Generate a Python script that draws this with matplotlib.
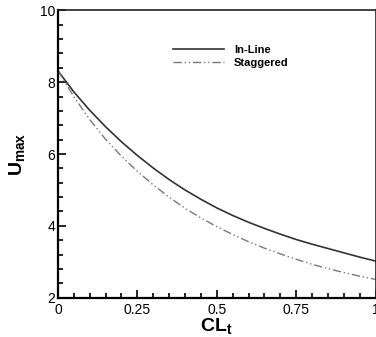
import matplotlib
matplotlib.use("Agg")
import matplotlib.pyplot as plt
from matplotlib.ticker import MultipleLocator, FixedLocator

plt.rcParams['font.family'] = ['Liberation Sans', 'DejaVu Sans']
plt.rcParams['mathtext.fontset'] = 'custom'
plt.rcParams['mathtext.rm'] = 'Liberation Sans'
plt.rcParams['mathtext.bf'] = 'Liberation Sans:bold'

# data
cl_t = [0.00, 0.05, 0.10, 0.15, 0.20, 0.25, 0.30, 0.35, 0.40, 0.45, 0.50,
        0.55, 0.60, 0.65, 0.70, 0.75, 0.80, 0.85, 0.90, 0.95, 1.00]
u_inline = [8.32, 7.73, 7.22, 6.76, 6.34, 5.96, 5.61, 5.29, 5.00, 4.74, 4.50,
            4.29, 4.10, 3.93, 3.77, 3.62, 3.49, 3.37, 3.25, 3.13, 3.02]
u_staggered = [8.32, 7.60, 6.96, 6.41, 5.94, 5.52, 5.14, 4.80, 4.49, 4.22, 3.98,
               3.76, 3.56, 3.38, 3.22, 3.07, 2.93, 2.81, 2.70, 2.60, 2.51]
x_ticks = [0, 0.25, 0.5, 0.75, 1]
x_tick_labels = ['0', '0.25', '0.5', '0.75', '1']

fig = plt.figure(figsize=(3.76, 3.37), dpi=100)
ax = fig.add_axes([0.154, 0.1166, 0.8449, 0.8528])

ax.plot(cl_t, u_inline, color='#333333', lw=1.2, label='In-Line')
ax.plot(cl_t, u_staggered, color='#7a7a7a', lw=1.0,
        dashes=(6, 2, 1, 2, 1, 2), label='Staggered')

ax.set_xlim(0, 1)
ax.set_ylim(2, 10)
ax.xaxis.set_major_locator(FixedLocator(x_ticks))
ax.set_xticklabels(x_tick_labels)
ax.xaxis.set_minor_locator(MultipleLocator(0.05))
ax.yaxis.set_major_locator(MultipleLocator(2))
ax.yaxis.set_minor_locator(MultipleLocator(0.4))
ax.tick_params(which='both', direction='in', top=False, right=False,
               labelsize=10, width=1.2)
ax.tick_params(axis='x', pad=4)
ax.tick_params(axis='y', pad=2)
ax.tick_params(which='major', length=6)
ax.tick_params(which='minor', length=3.5)

for side in ['left', 'bottom']:
    ax.spines[side].set_linewidth(1.6)
for side in ['top', 'right']:
    ax.spines[side].set_linewidth(1.2)
    ax.spines[side].set_color('#222222')

ax.set_xlabel(r'$\mathbf{CL_t}$', fontsize=14, labelpad=-1)
ax.set_ylabel(r'$\mathbf{U_{max}}$', fontsize=14, labelpad=9)

leg = ax.legend(loc='upper left', bbox_to_anchor=(0.33, 0.915), frameon=False,
                prop={'weight': 'bold', 'size': 8}, handlelength=4.6,
                handletextpad=0.9, labelspacing=0.25)

fig.savefig('out.png', dpi=100)
